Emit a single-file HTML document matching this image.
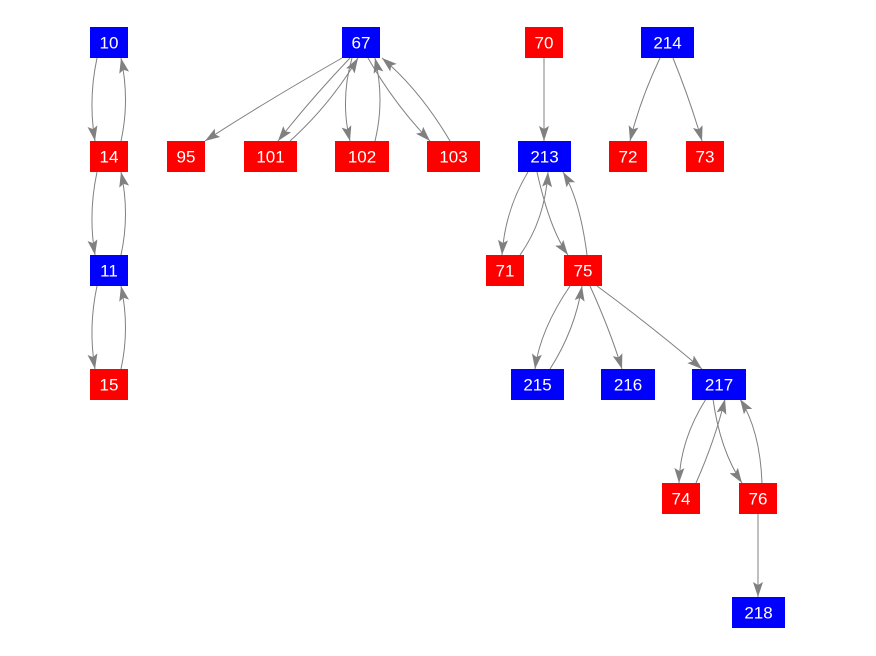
<!DOCTYPE html>
<html><head><style>
body{margin:0;background:#fff;}
svg{display:block}
text{font-family:"Liberation Sans",sans-serif;font-size:17px;fill:#fff;text-anchor:middle;dominant-baseline:central}
</style></head><body>
<svg width="876" height="656" viewBox="0 0 876 656">
<defs>
<marker id="a" markerUnits="userSpaceOnUse" markerWidth="16" markerHeight="12" refX="15" refY="5" orient="auto">
<path d="M0,0 L15,5 L0,10 L3,5 Z" fill="#808080"/>
</marker>
</defs>
<g fill="none" stroke="#808080" stroke-width="1" marker-end="url(#a)">
<path d="M97,58 Q88,100 95,141"/>
<path d="M121,141 Q130,100 121,58"/>
<path d="M97,172 Q88,214 95,255"/>
<path d="M121,255 Q130,214 121,172"/>
<path d="M97,286 Q88,328 95,369"/>
<path d="M121,369 Q130,328 121,286"/>
<path d="M342,58 Q260,105 205,141"/>
<path d="M350,58 Q310,100 278,141"/>
<path d="M290,141 Q330,105 358,58"/>
<path d="M352,58 Q340,100 350,141"/>
<path d="M375,141 Q385,100 375,58"/>
<path d="M368,58 Q395,105 430,141"/>
<path d="M450,141 Q420,90 382,58"/>
<path d="M544,58 L544,141"/>
<path d="M660,58 Q640,100 630,141"/>
<path d="M673,58 Q690,100 702,141"/>
<path d="M528,172 Q505,210 502,255"/>
<path d="M520,255 Q545,220 548,172"/>
<path d="M537,172 Q550,230 568,255"/>
<path d="M587,255 Q580,200 563,172"/>
<path d="M570,286 Q540,330 535,369"/>
<path d="M550,369 Q575,330 582,286"/>
<path d="M590,286 Q610,330 622,369"/>
<path d="M597,286 Q650,325 702,369"/>
<path d="M706,399 Q680,440 679,483"/>
<path d="M696,483 Q715,440 725,399"/>
<path d="M713,399 Q720,450 742,483"/>
<path d="M762,483 Q760,430 740,399"/>
<path d="M758,513 L758,597"/>
</g>
<g>
<rect x="90" y="27" width="38" height="31" fill="#0000ff"/><text x="109" y="43">10</text>
<rect x="90" y="141" width="38" height="31" fill="#ff0000"/><text x="109" y="157">14</text>
<rect x="90" y="255" width="38" height="31" fill="#0000ff"/><text x="109" y="271">11</text>
<rect x="90" y="369" width="38" height="31" fill="#ff0000"/><text x="109" y="385">15</text>
<rect x="342" y="27" width="38" height="31" fill="#0000ff"/><text x="361" y="43">67</text>
<rect x="167" y="141" width="38" height="31" fill="#ff0000"/><text x="186" y="157">95</text>
<rect x="244" y="141" width="53" height="31" fill="#ff0000"/><text x="270.5" y="157">101</text>
<rect x="335" y="141" width="54" height="31" fill="#ff0000"/><text x="362" y="157">102</text>
<rect x="427" y="141" width="53" height="31" fill="#ff0000"/><text x="453.5" y="157">103</text>
<rect x="525" y="27" width="38" height="31" fill="#ff0000"/><text x="544" y="43">70</text>
<rect x="641" y="27" width="53" height="31" fill="#0000ff"/><text x="667.5" y="43">214</text>
<rect x="518" y="141" width="53" height="31" fill="#0000ff"/><text x="544.5" y="157">213</text>
<rect x="609" y="141" width="38" height="31" fill="#ff0000"/><text x="628" y="157">72</text>
<rect x="686" y="141" width="38" height="31" fill="#ff0000"/><text x="705" y="157">73</text>
<rect x="486" y="255" width="38" height="31" fill="#ff0000"/><text x="505" y="271">71</text>
<rect x="564" y="255" width="38" height="31" fill="#ff0000"/><text x="583" y="271">75</text>
<rect x="511" y="369" width="53" height="31" fill="#0000ff"/><text x="537.5" y="385">215</text>
<rect x="601" y="369" width="54" height="31" fill="#0000ff"/><text x="628" y="385">216</text>
<rect x="692" y="369" width="54" height="31" fill="#0000ff"/><text x="719" y="385">217</text>
<rect x="662" y="483" width="38" height="31" fill="#ff0000"/><text x="681" y="499">74</text>
<rect x="739" y="483" width="38" height="31" fill="#ff0000"/><text x="758" y="499">76</text>
<rect x="732" y="597" width="53" height="31" fill="#0000ff"/><text x="758.5" y="613">218</text>
</g>
</svg>
</body></html>
